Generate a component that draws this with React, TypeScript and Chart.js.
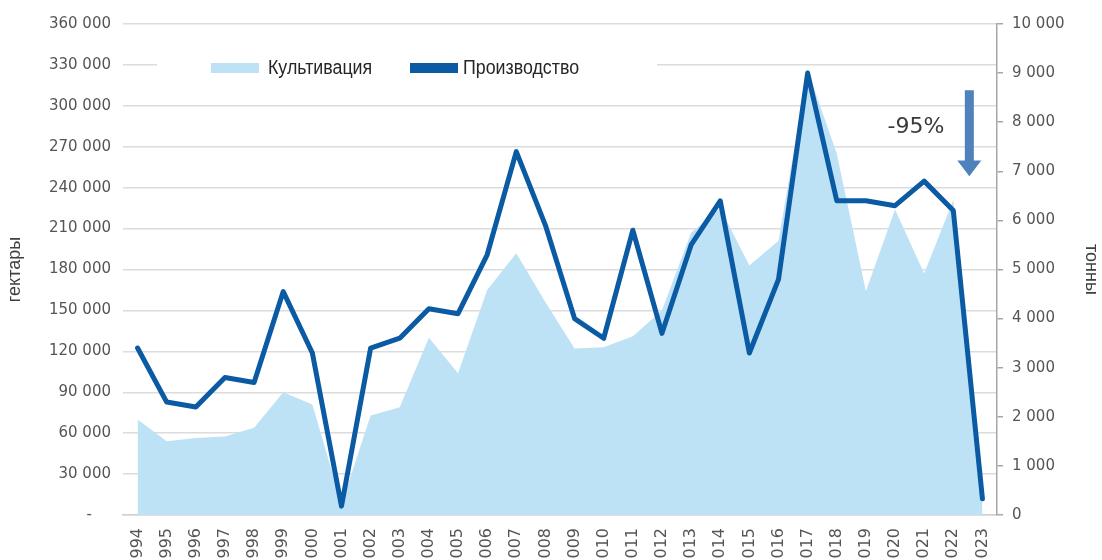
import React, { useEffect, useRef } from 'react';
import { Chart, registerables } from 'chart.js';

Chart.register(...registerables);

// ---- data ----
const years = [
  '1994', '1995', '1996', '1997', '1998', '1999', '2000', '2001', '2002', '2003',
  '2004', '2005', '2006', '2007', '2008', '2009', '2010', '2011', '2012', '2013',
  '2014', '2015', '2016', '2017', '2018', '2019', '2020', '2021', '2022', '2023',
];

// hectares (left axis)
const cultivation = [
  70000, 54000, 56500, 57500, 64000, 90000, 81000, 8000, 73000, 79000,
  130000, 104000, 165000, 192000, 156000, 122000, 123000, 131000, 150000, 207000,
  225000, 183000, 201000, 326000, 265000, 164000, 224000, 177000, 231000, 10800,
];

// tonnes (right axis)
const production = [
  3400, 2300, 2200, 2800, 2700, 4550, 3300, 180, 3400, 3600,
  4200, 4100, 5300, 7400, 5900, 4000, 3600, 5800, 3700, 5500,
  6400, 3300, 4800, 9000, 6400, 6400, 6300, 6800, 6200, 330,
];

const seriesNames = ['Культивация', 'Производство'];
const axisTitles = ['гектары', 'тонны'];
const leftMax = 360000;
const leftStep = 30000;
const rightMax = 10000;
const rightStep = 1000;
const changeLabel = '-95%';

// annotation anchors (category index / right-axis value)
const arrowIndex = 28.55;
const arrowTopValue = 8650;
const arrowHeadValue = 7220;
const arrowTipValue = 6900;
const changeLabelIndex = 26.72;
const changeLabelValue = 7900;

const AREA_COLOR = '#bde2f6';
const LINE_COLOR = '#0b5aa4';
const ARROW_COLOR = '#4f81bd';
const TICK_COLOR = '#555555';
const GRID_COLOR = '#dcdcdc';

const fmt = (v: number) => String(v).replace(/\B(?=(\d{3})+(?!\d))/g, ' ');

const overlayPlugin = {
  id: 'overlay',
  beforeDatasetsDraw(chart: any) {
    const ctx = chart.ctx as CanvasRenderingContext2D;
    ctx.save();
    // legend box (white background hides the grid line behind it)
    ctx.fillStyle = '#ffffff';
    ctx.fillRect(157, 50, 500, 34);
    const ds = chart.data.datasets;
    const items = [
      { x: 211, tx: 268, color: ds[0].backgroundColor, text: ds[0].label },
      { x: 410, tx: 463, color: ds[1].borderColor, text: ds[1].label },
    ];
    for (const it of items) {
      ctx.fillStyle = it.color;
      ctx.fillRect(it.x, 63, 48, 10);
      ctx.save();
      ctx.translate(it.tx, 68);
      ctx.scale(0.89, 1);
      ctx.font = "20px 'Liberation Sans', Arial, sans-serif";
      ctx.textBaseline = 'middle';
      ctx.textAlign = 'left';
      ctx.fillStyle = '#262626';
      ctx.fillText(it.text, 0, 0);
      ctx.restore();
    }
    ctx.restore();
  },
  afterDraw(chart: any) {
    const ctx = chart.ctx as CanvasRenderingContext2D;
    const xs = chart.scales.x;
    const ys = chart.scales.y1;
    const ax = xs.getPixelForValue(arrowIndex);
    const yTop = ys.getPixelForValue(arrowTopValue);
    const yHead = ys.getPixelForValue(arrowHeadValue);
    const yTip = ys.getPixelForValue(arrowTipValue);
    ctx.save();
    ctx.fillStyle = ARROW_COLOR;
    ctx.beginPath();
    ctx.moveTo(ax - 4.5, yTop);
    ctx.lineTo(ax + 4.5, yTop);
    ctx.lineTo(ax + 4.5, yHead);
    ctx.lineTo(ax + 12, yHead);
    ctx.lineTo(ax, yTip);
    ctx.lineTo(ax - 12, yHead);
    ctx.lineTo(ax - 4.5, yHead);
    ctx.closePath();
    ctx.fill();
    ctx.font = "22px 'DejaVu Sans', sans-serif";
    ctx.fillStyle = '#3a3a3a';
    ctx.textAlign = 'center';
    ctx.textBaseline = 'middle';
    ctx.fillText(changeLabel, xs.getPixelForValue(changeLabelIndex), ys.getPixelForValue(changeLabelValue));
    ctx.restore();
  },
};

export default function App() {
  const canvasRef = useRef<HTMLCanvasElement | null>(null);

  useEffect(() => {
    document.body.style.margin = '0';
    const canvas = canvasRef.current;
    if (!canvas) return;
    const tickFont = { family: 'DejaVu Sans', size: 15 };
    const chart = new Chart(canvas, {
      type: 'line',
      data: {
        labels: years,
        datasets: [
          {
            label: seriesNames[0],
            data: cultivation,
            yAxisID: 'y',
            fill: 'origin',
            backgroundColor: AREA_COLOR,
            borderColor: AREA_COLOR,
            borderWidth: 0,
            pointRadius: 0,
            tension: 0,
            order: 2,
          },
          {
            label: seriesNames[1],
            data: production,
            yAxisID: 'y1',
            fill: false,
            borderColor: LINE_COLOR,
            backgroundColor: LINE_COLOR,
            borderWidth: 5,
            borderJoinStyle: 'round',
            borderCapStyle: 'round',
            pointRadius: 0,
            tension: 0,
            order: 1,
          },
        ],
      },
      options: {
        animation: false,
        responsive: true,
        maintainAspectRatio: false,
        layout: { padding: { top: 24, left: 0, right: 0, bottom: 0 } },
        plugins: {
          legend: { display: false },
          tooltip: { enabled: false },
        },
        scales: {
          x: {
            type: 'category',
            offset: true,
            grid: { display: false },
            border: { display: true, color: '#d0d0d0', width: 1.5 },
            ticks: {
              autoSkip: false,
              minRotation: 90,
              maxRotation: 90,
              padding: 5,
              color: TICK_COLOR,
              font: { family: 'DejaVu Sans', size: 16 },
            },
            afterFit: (s: any) => { s.height = 45; },
          },
          y: {
            position: 'left',
            min: 0,
            max: leftMax,
            ticks: {
              stepSize: leftStep,
              padding: 12,
              color: TICK_COLOR,
              font: tickFont,
              callback: (v: any) => (Number(v) === 0 ? '-    ' : fmt(Number(v))),
            },
            grid: { color: GRID_COLOR, lineWidth: 1.5, drawTicks: false },
            border: { display: false },
            title: {
              display: true,
              text: axisTitles[0],
              color: '#404040',
              font: { family: 'Liberation Sans', size: 18 },
              padding: { top: 4, bottom: 0 },
            },
            afterFit: (s: any) => { s.width = 123; },
          },
          y1: {
            position: 'right',
            min: 0,
            max: rightMax,
            ticks: {
              stepSize: rightStep,
              padding: 9,
              color: TICK_COLOR,
              font: tickFont,
              callback: (v: any) => fmt(Number(v)),
            },
            grid: { drawOnChartArea: false, color: '#a6a6a6', lineWidth: 1.5, tickLength: 6 },
            border: { display: true, color: '#a6a6a6', width: 1.5 },
            title: {
              display: true,
              text: axisTitles[1],
              color: '#404040',
              font: { family: 'Liberation Sans', size: 18 },
              padding: { top: 0, bottom: 0 },
            },
            afterFit: (s: any) => { s.width = 105; },
          },
        },
      },
      plugins: [overlayPlugin],
    } as any);
    return () => chart.destroy();
  }, []);

  return (
    <div style={{ position: 'relative', width: '1102px', height: '560px' }}>
      <canvas ref={canvasRef} />
    </div>
  );
}
